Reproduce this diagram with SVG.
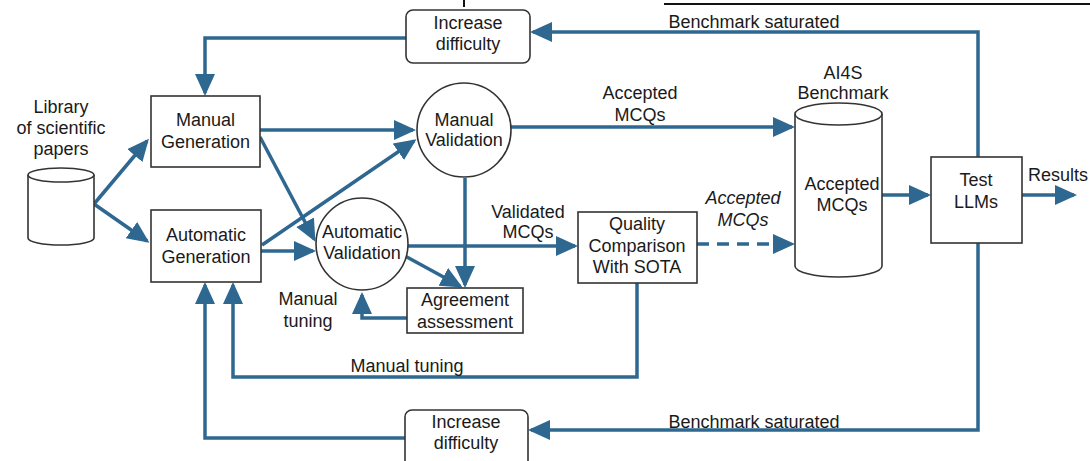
<svg xmlns="http://www.w3.org/2000/svg" width="1090" height="461" viewBox="0 0 1090 461">
<defs>
<style>
.node{fill:#fff;stroke:#333;stroke-width:1.6}
.c{fill:none;stroke:#2e6790;stroke-width:3.5}
.d{stroke-dasharray:12 8}
text{font-family:"Liberation Sans",Arial,sans-serif;font-size:18px;fill:#1a1a1a;text-anchor:middle}
.i{font-style:italic}
</style>
<marker id="a" markerUnits="userSpaceOnUse" markerWidth="24" markerHeight="22" refX="19" refY="10" orient="auto">
<path d="M0,0 L22,10 L0,20 z" fill="#2e6790"/>
</marker>
</defs>
<rect width="1090" height="461" fill="#fff"/>
<g id="top-artifact" stroke="#111" stroke-width="2">
<line x1="464" y1="0" x2="464" y2="7"/>
<line x1="664" y1="4" x2="1090" y2="4"/>
</g>
<g id="connectors">
<line class="c" x1="94" y1="204" x2="147" y2="141" marker-end="url(#a)"/>
<line class="c" x1="94" y1="204" x2="147" y2="241" marker-end="url(#a)"/>
<polyline class="c" points="406,38 205,38 205,93" marker-end="url(#a)"/>
<polyline class="c" points="978,157 978,32 533,32" marker-end="url(#a)"/>
<line class="c" x1="260" y1="130" x2="413" y2="130" marker-end="url(#a)"/>
<line class="c" x1="262" y1="245" x2="414" y2="141" marker-end="url(#a)"/>
<line class="c" x1="260" y1="137" x2="314" y2="239" marker-end="url(#a)"/>
<line class="c" x1="261" y1="251" x2="313" y2="251" marker-end="url(#a)"/>
<line class="c" x1="510" y1="127" x2="792" y2="127" marker-end="url(#a)"/>
<line class="c" x1="408" y1="246" x2="575" y2="246" marker-end="url(#a)"/>
<line class="c" x1="405" y1="256" x2="460" y2="286" marker-end="url(#a)"/>
<line class="c" x1="465" y1="178" x2="465" y2="285" marker-end="url(#a)"/>
<polyline class="c" points="407,318 362,318 362,295" marker-end="url(#a)"/>
<line class="c d" x1="697" y1="244" x2="792" y2="244" marker-end="url(#a)"/>
<line class="c" x1="882" y1="195" x2="928" y2="195" marker-end="url(#a)"/>
<line class="c" x1="1022" y1="195" x2="1074" y2="195" marker-end="url(#a)"/>
<polyline class="c" points="978,243 978,430 531,430" marker-end="url(#a)"/>
<polyline class="c" points="405,438 205,438 205,285" marker-end="url(#a)"/>
<polyline class="c" points="637,283 637,377 233,377 233,285" marker-end="url(#a)"/>
</g>
<g id="library">
<path class="node" d="M28,175 L28,238 A33,7 0 0 0 94,238 L94,175"/>
<ellipse class="node" cx="61" cy="175" rx="33" ry="7"/>
<text x="61" y="113">Library</text>
<text x="61" y="134">of scientific</text>
<text x="61" y="155">papers</text>
</g>
<g id="inc-top">
<rect class="node" x="406" y="10" width="124" height="53" rx="7"/>
<text x="468" y="29">Increase</text>
<text x="468" y="50">difficulty</text>
</g>
<g id="manual-gen">
<rect class="node" x="151" y="96" width="109" height="71"/>
<text x="205.5" y="126">Manual</text>
<text x="205.5" y="148">Generation</text>
</g>
<g id="auto-gen">
<rect class="node" x="151" y="210" width="110" height="72"/>
<text x="206" y="241">Automatic</text>
<text x="206" y="263">Generation</text>
</g>
<g id="manual-val">
<circle class="node" cx="464" cy="130" r="47"/>
<text x="464" y="126">Manual</text>
<text x="464" y="146">Validation</text>
</g>
<g id="auto-val">
<circle class="node" cx="362" cy="244" r="46"/>
<text x="362" y="238">Automatic</text>
<text x="362" y="259">Validation</text>
</g>
<g id="agreement">
<rect class="node" x="407" y="288" width="116" height="45"/>
<text x="465" y="306">Agreement</text>
<text x="465" y="328">assessment</text>
</g>
<g id="quality">
<rect class="node" x="578" y="212" width="119" height="71"/>
<text x="637" y="230">Quality</text>
<text x="637" y="252">Comparison</text>
<text x="637" y="273">With SOTA</text>
</g>
<g id="benchmark">
<path class="node" d="M795,114 L795,266 A43.5,11 0 0 0 882,266 L882,114"/>
<ellipse class="node" cx="838.5" cy="114" rx="43.5" ry="11"/>
<text x="843" y="79">AI4S</text>
<text x="843" y="99">Benchmark</text>
<text x="842" y="190">Accepted</text>
<text x="842" y="211">MCQs</text>
</g>
<g id="test-llms">
<rect class="node" x="931" y="157" width="91" height="86"/>
<text x="976" y="186">Test</text>
<text x="976" y="208">LLMs</text>
</g>
<g id="inc-bottom">
<rect class="node" x="405" y="410" width="123" height="60" rx="7"/>
<text x="466" y="428">Increase</text>
<text x="466" y="449">difficulty</text>
</g>
<g id="labels">
<text x="754" y="28">Benchmark saturated</text>
<text x="640" y="99">Accepted</text>
<text x="640" y="121">MCQs</text>
<text x="528" y="218">Validated</text>
<text x="528" y="238">MCQs</text>
<text class="i" x="743" y="204">Accepted</text>
<text class="i" x="743" y="226">MCQs</text>
<text x="1058" y="181">Results</text>
<text x="308" y="305">Manual</text>
<text x="308" y="327">tuning</text>
<text x="407" y="372">Manual tuning</text>
<text x="754" y="428">Benchmark saturated</text>
</g>
</svg>
